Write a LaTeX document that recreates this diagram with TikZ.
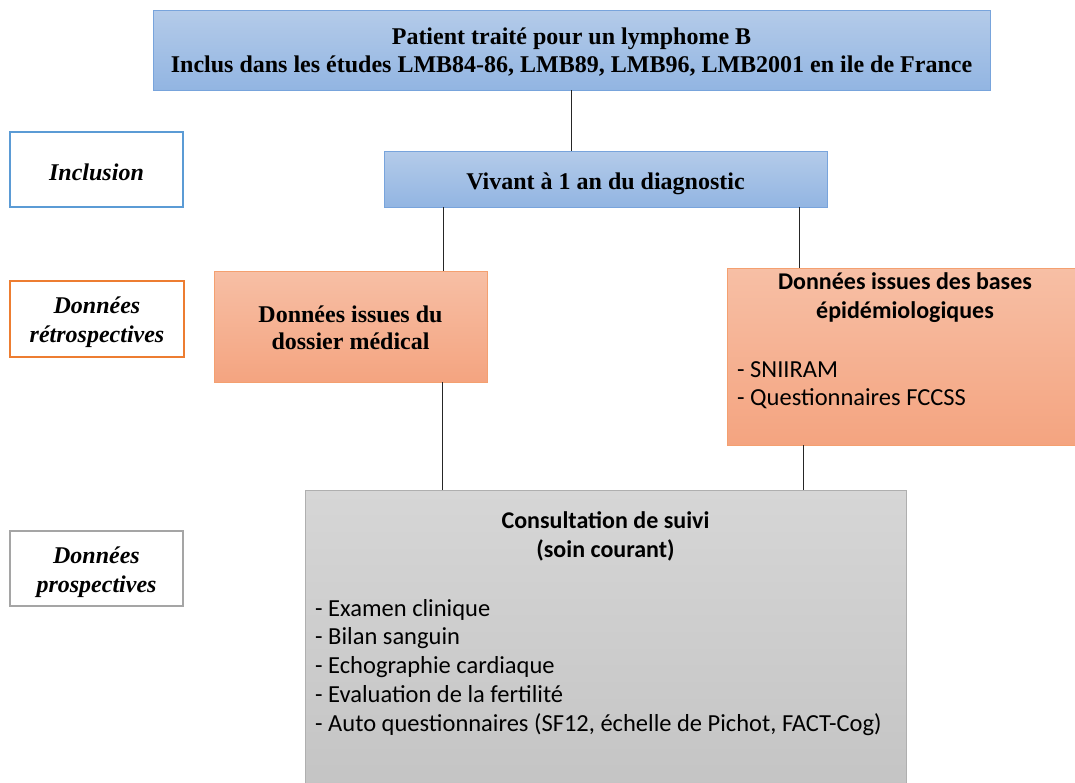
\documentclass[tikz,border=0pt]{standalone}
\usepackage{fontspec}
\setmainfont{Liberation Serif}
\newfontfamily\calib{Carlito}
\definecolor{bluetop}{RGB}{180,203,233}
\definecolor{bluebot}{RGB}{146,181,226}
\definecolor{blueedge}{RGB}{120,164,220}
\definecolor{bluelbl}{RGB}{91,155,213}
\definecolor{orlbl}{RGB}{237,125,49}
\definecolor{graylbl}{RGB}{165,165,165}
\definecolor{ortop}{RGB}{247,191,165}
\definecolor{orbot}{RGB}{244,164,128}
\definecolor{oredge}{RGB}{244,160,112}
\definecolor{grtop}{RGB}{214,214,214}
\definecolor{grbot}{RGB}{196,196,196}
\definecolor{gredge}{RGB}{175,175,175}
\begin{document}
\begin{tikzpicture}[x=1pt,y=-1pt,
  lbl/.style={draw=#1,line width=1.2pt,fill=white,inner sep=0pt,
    font=\fontsize{24}{29}\selectfont\bfseries\itshape,align=center},
  ttl/.style={font=\fontsize{24}{28}\selectfont\bfseries,align=center,inner sep=0pt},
  ctl/.style={font=\calib\fontsize{24}{29}\selectfont\bfseries,align=center,inner sep=0pt},
  lst/.style={font=\calib\fontsize{24.5}{28.7}\selectfont,align=left,inner sep=0pt,anchor=north west},
  bluebox/.style={line width=1pt,draw=blueedge,top color=bluetop,bottom color=bluebot},
  orbox/.style={line width=1pt,draw=oredge,top color=ortop,bottom color=orbot},
  grbox/.style={line width=1pt,draw=gredge,top color=grtop,bottom color=grbot},
  conn/.style={draw=black!85,line width=0.8pt}]
\useasboundingbox (0,0) rectangle (1075,782);
% boxes
\draw[bluebox] (153,10) rectangle (990,90);
\node[ttl] (top) at (571.5,52.5) {Patient traité pour un lymphome B\\Inclus dans les études LMB84-86, LMB89, LMB96, LMB2001 en ile de France};
\coordinate (topS) at (571,90);
\draw[bluebox] (384,151) rectangle (827,207);
\node[ttl] (viv) at (605.5,183.5) {Vivant à 1 an du diagnostic};
\coordinate (vivN) at (571,151);
\coordinate (vivS1) at (443,207);
\coordinate (vivS2) at (799,207);
% labels
\draw[line width=1.2pt,draw=bluelbl,fill=white] (10,132) rectangle (183,207);
\node[lbl=bluelbl, draw=none, fill=none] (inc) at (96.5,172) {Inclusion};
\draw[line width=1.2pt,draw=orlbl,fill=white] (10,281) rectangle (184,357);
\node[lbl=orlbl, draw=none, fill=none] (retro) at (97,322) {Données\\rétrospectives};
\draw[line width=1.2pt,draw=graylbl,fill=white] (10,531) rectangle (183,606);
\node[lbl=graylbl, draw=none, fill=none] (prosp) at (96.5,572) {Données\\prospectives};
% orange boxes
\draw[orbox] (214,271) rectangle (487,382);
\node[ttl, font=\fontsize{24}{27}\selectfont\bfseries] (dos) at (350.5,328) {Données issues du\\dossier médical};
\coordinate (dosN) at (443,271);
\coordinate (dosS) at (442,382);
\draw[orbox] (727,268) rectangle (1080,445);
\node[ctl] (bases) at (905,298) {Données issues des bases\\épidémiologiques};
\node[lst] (bl) at (737,361) {- SNIIRAM\\- Questionnaires FCCSS};
\coordinate (basN) at (799,268);
\coordinate (basS) at (803,445);
% gray box
\draw[grbox] (305,490) rectangle (906,790);
\node[ctl] (cons) at (605.5,536) {Consultation de suivi\\(soin courant)};
\node[lst] (cl) at (315,599) {- Examen clinique\\- Bilan sanguin\\- Echographie cardiaque\\- Evaluation de la fertilité\\- Auto questionnaires (SF12, échelle de Pichot, FACT-Cog)};
\coordinate (consN1) at (442,490);
\coordinate (consN2) at (803,490);
% connectors
\draw[conn] (topS) -- (vivN);
\draw[conn] (vivS1) -- (dosN);
\draw[conn] (vivS2) -- (basN);
\draw[conn] (dosS) -- (consN1);
\draw[conn] (basS) -- (consN2);
\end{tikzpicture}
\end{document}
